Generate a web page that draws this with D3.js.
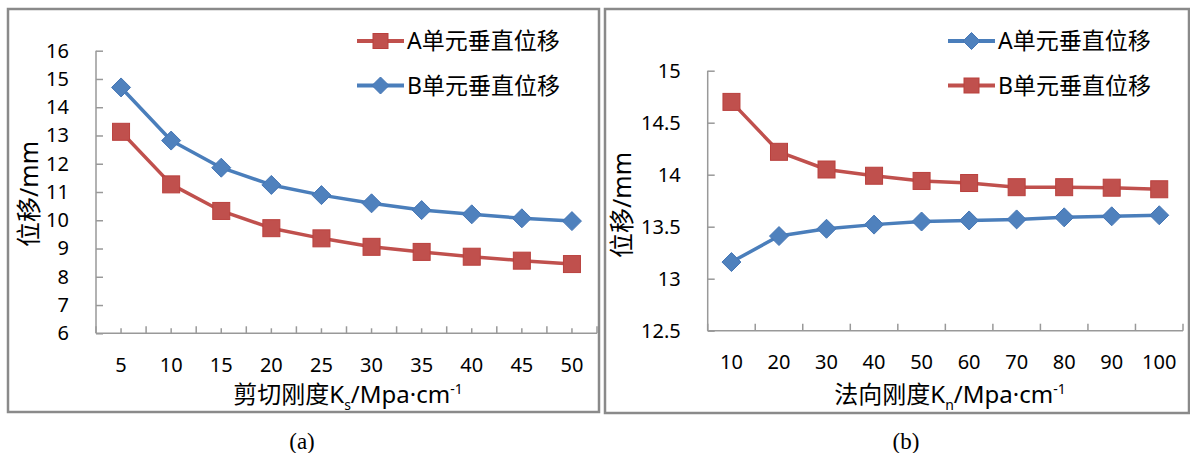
<!DOCTYPE html>
<html>
<head>
<meta charset="utf-8">
<script src="https://cdn.jsdelivr.net/npm/d3@7"></script>
<style>
  html, body { margin: 0; padding: 0; background: #fff; }
  svg { display: block; }
  text { font-family: "Noto Sans", "Noto Sans CJK SC", sans-serif; fill: #000; }
</style>
</head>
<body>
<svg id="chart" width="1190" height="453"></svg>
<script>
// Panel (a): shear stiffness vs vertical displacement
const shearCats = ["5", "10", "15", "20", "25", "30", "35", "40", "45", "50"];
const shearA = [13.13, 11.27, 10.33, 9.72, 9.36, 9.06, 8.88, 8.71, 8.57, 8.45];
const shearB = [14.70, 12.82, 11.86, 11.25, 10.89, 10.60, 10.36, 10.21, 10.07, 9.97];
const shearTicks = [6, 7, 8, 9, 10, 11, 12, 13, 14, 15, 16];

// Panel (b): normal stiffness vs vertical displacement
const normalCats = ["10", "20", "30", "40", "50", "60", "70", "80", "90", "100"];
const normalA = [13.16, 13.41, 13.48, 13.52, 13.55, 13.56, 13.57, 13.59, 13.60, 13.61];
const normalB = [14.70, 14.22, 14.05, 13.99, 13.94, 13.92, 13.88, 13.88, 13.875, 13.86];
const normalTicks = [12.5, 13, 13.5, 14, 14.5, 15];

const legendA = "A单元垂直位移";
const legendB = "B单元垂直位移";

const RED = "#C0504D", BLUE = "#4A7EBB", AXIS = "#999999";

const svg = d3.select("#chart");

function square(g, x, y, s) {
  g.append("rect").attr("x", x - s / 2).attr("y", y - s / 2)
    .attr("width", s).attr("height", s)
    .attr("fill", RED).attr("stroke", "#B9403D").attr("stroke-width", 1);
}
function diamond(g, x, y, s) {
  g.append("path")
    .attr("d", `M${x},${y - s / 2}L${x + s / 2},${y}L${x},${y + s / 2}L${x - s / 2},${y}Z`)
    .attr("fill", "#4F81BD").attr("stroke", "#4576B5").attr("stroke-width", 1);
}

function panel(cfg) {
  const g = svg.append("g");
  // frame
  g.append("rect").attr("x", cfg.frame[0]).attr("y", cfg.frame[1])
    .attr("width", cfg.frame[2]).attr("height", cfg.frame[3])
    .attr("fill", "none").attr("stroke", "#8a8a8a").attr("stroke-width", 2.5);

  const x = d3.scaleBand().domain(cfg.cats).range([cfg.left, cfg.right]);
  const y = d3.scaleLinear().domain(cfg.yDomain).range([cfg.bottom, cfg.top]);

  // y axis with inward ticks
  const yAx = g.append("g").attr("transform", `translate(${cfg.left},0)`)
    .call(d3.axisLeft(y).tickValues(cfg.yTicks).tickSize(-7).tickPadding(27)
      .tickFormat(d3.format("")));
  yAx.attr("font-family", null).attr("font-size", null);
  yAx.select(".domain").attr("stroke", AXIS).attr("stroke-width", 1.5)
    .attr("d", `M0,${cfg.top}V${cfg.bottom}`);
  yAx.selectAll(".tick line").attr("stroke", AXIS).attr("stroke-width", 1.5);
  yAx.selectAll(".tick text").style("font-size", "20px").attr("fill", "#000");

  // x axis line
  g.append("line").attr("x1", cfg.left).attr("x2", cfg.right)
    .attr("y1", cfg.bottom).attr("y2", cfg.bottom)
    .attr("stroke", AXIS).attr("stroke-width", 1.5);
  // category boundary ticks (and centre ticks where used), pointing inward
  const bounds = cfg.cats.map(c => x(c)).concat([x(cfg.cats[cfg.cats.length - 1]) + x.bandwidth()]);
  bounds.forEach(b => {
    g.append("line").attr("x1", b).attr("x2", b)
      .attr("y1", cfg.bottom).attr("y2", cfg.bottom - 7)
      .attr("stroke", AXIS).attr("stroke-width", 1.5);
  });
  if (cfg.centerTicks) {
    cfg.cats.forEach(c => {
      const cx = x(c) + x.bandwidth() / 2;
      g.append("line").attr("x1", cx).attr("x2", cx)
        .attr("y1", cfg.bottom).attr("y2", cfg.bottom - 5)
        .attr("stroke", AXIS).attr("stroke-width", 1.5);
    });
  }
  // x tick labels
  g.selectAll(null).data(cfg.cats).enter().append("text")
    .attr("x", d => x(d) + x.bandwidth() / 2).attr("y", cfg.labelY)
    .attr("text-anchor", "middle").style("font-size", "20px").text(d => d);

  // series
  const cx = (d, i) => x(cfg.cats[i]) + x.bandwidth() / 2;
  const line = d3.line().x(cx).y(d => y(d));
  cfg.series.forEach(s => {
    g.append("path").datum(s.values).attr("d", line)
      .attr("fill", "none").attr("stroke", s.color).attr("stroke-width", 3.5)
      .attr("stroke-linejoin", "round");
    s.values.forEach((v, i) => s.marker(g, cx(v, i), y(v), s.size));
  });

  // legend
  cfg.series.forEach((s, i) => {
    const ly = cfg.legend[1] + i * 44.5;
    g.append("line").attr("x1", cfg.legend[0]).attr("x2", cfg.legend[0] + 47)
      .attr("y1", ly).attr("y2", ly).attr("stroke", s.color).attr("stroke-width", 4);
    s.marker(g, cfg.legend[0] + 23.5, ly, s.legendSize);
    g.append("text").attr("x", cfg.legend[0] + 50).attr("y", ly)
      .attr("dy", "0.36em").style("font-size", "23px").text(s.name);
  });

  // y axis title
  g.append("text")
    .attr("transform", `translate(${cfg.yTitle[0]},${cfg.yTitle[1]}) rotate(-90)`)
    .attr("text-anchor", "middle").attr("dy", "0.36em")
    .style("font-size", "25px").text("位移/mm");

  // x axis title with subscript and superscript
  const t = g.append("text").attr("x", cfg.xTitle[0]).attr("y", cfg.xTitle[1])
    .attr("text-anchor", "middle").style("font-size", "24px");
  t.append("tspan").text(cfg.xTitleMain);
  t.append("tspan").attr("dy", 7).style("font-size", "14px").text(cfg.sub);
  t.append("tspan").attr("dy", -7).text("/Mpa·cm");
  t.append("tspan").attr("dy", -9).style("font-size", "14px").text("-1");

  // caption
  g.append("text").attr("x", cfg.caption[0]).attr("y", cfg.caption[1])
    .attr("text-anchor", "middle").style("font-size", "23px")
    .style("font-family", "'Liberation Serif', serif").text(cfg.captionText);
}

panel({
  frame: [8, 9, 591, 403],
  cats: shearCats, left: 96, right: 597, top: 50.7, bottom: 333.3,
  yDomain: [6, 16], yTicks: shearTicks, centerTicks: true, labelY: 372,
  series: [
    { name: legendA, values: shearA, color: RED, marker: square, size: 17, legendSize: 15 },
    { name: legendB, values: shearB, color: BLUE, marker: diamond, size: 19, legendSize: 17 }
  ],
  legend: [357, 41], yTitle: [29, 194],
  xTitle: [348, 403], xTitleMain: "剪切刚度K", sub: "s",
  caption: [302, 449], captionText: "(a)"
});

panel({
  frame: [605, 9, 584, 404],
  cats: normalCats, left: 707.7, right: 1183, top: 70.7, bottom: 330.7,
  yDomain: [12.5, 15], yTicks: normalTicks, centerTicks: false, labelY: 369,
  series: [
    { name: legendA, values: normalA, color: BLUE, marker: diamond, size: 19, legendSize: 17 },
    { name: legendB, values: normalB, color: RED, marker: square, size: 17, legendSize: 15 }
  ],
  legend: [948, 41], yTitle: [622, 205],
  xTitle: [950, 403], xTitleMain: "法向刚度K", sub: "n",
  caption: [906, 449], captionText: "(b)"
});
</script>
</body>
</html>
